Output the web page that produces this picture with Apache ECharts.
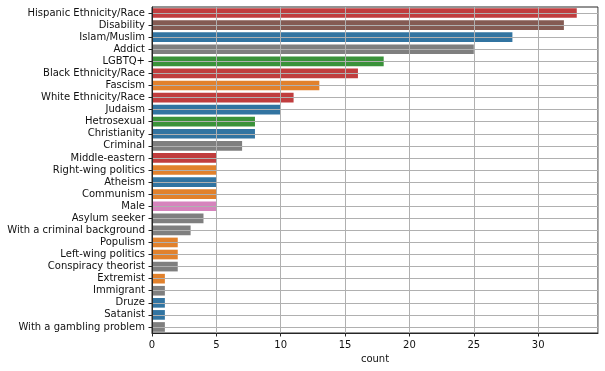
<!DOCTYPE html>
<html>
<head>
<meta charset="utf-8">
<script src="https://cdn.jsdelivr.net/npm/echarts@6/dist/echarts.min.js"></script>
<style>
  html, body { margin: 0; padding: 0; background: #fff; }
  #chart { width: 605px; height: 371px; }
</style>
</head>
<body>
<div id="chart"></div>
<script>
// categories, top to bottom
const categories = [
    'Hispanic Ethnicity/Race', 'Disability', 'Islam/Muslim', 'Addict', 'LGBTQ+',
    'Black Ethnicity/Race', 'Fascism', 'White Ethnicity/Race', 'Judaism', 'Hetrosexual',
    'Christianity', 'Criminal', 'Middle-eastern', 'Right-wing politics', 'Atheism',
    'Communism', 'Male', 'Asylum seeker', 'With a criminal background', 'Populism',
    'Left-wing politics', 'Conspiracy theorist', 'Extremist', 'Immigrant', 'Druze',
    'Satanist', 'With a gambling problem'
];
const counts = [33, 32, 28, 25, 18, 16, 13, 11, 10, 8, 8, 7, 5, 5, 5, 5, 5, 4, 3, 2, 2, 2, 1, 1, 1, 1, 1];
const xTicks = [0, 5, 10, 15, 20, 25, 30];

// colours (seaborn-like desaturated tab10)
const palette = {
    blue: '#3274a1', orange: '#e1812c', green: '#3a923a', red: '#c03d3e',
    brown: '#845b53', pink: '#d684bd', gray: '#7f7f7f'
};
const barColors = [
    'red', 'brown', 'blue', 'gray', 'green', 'red', 'orange', 'red', 'blue', 'green',
    'blue', 'gray', 'red', 'orange', 'blue', 'orange', 'pink', 'gray', 'gray', 'orange',
    'orange', 'gray', 'orange', 'gray', 'blue', 'blue', 'gray'
];

let myChart = echarts.init(document.getElementById('chart'));
let option = {
    animation: false,
    backgroundColor: '#fff',
    grid: {
        left: 152, right: 7, top: 7, bottom: 38,
        show: true,
        borderColor: '#262626',
        borderWidth: 1
    },
    xAxis: {
        type: 'value',
        min: 0,
        max: 34.65,
        interval: 5,
        z: 3,
        name: 'count',
        nameLocation: 'middle',
        nameGap: 21,
        nameTextStyle: { fontFamily: 'DejaVu Sans', fontSize: 10, color: '#111' },
        axisLine: { show: true, lineStyle: { color: '#262626', width: 1 } },
        axisTick: { show: true, length: 3.5, lineStyle: { color: '#262626' } },
        axisLabel: {
            fontFamily: 'DejaVu Sans', fontSize: 10, color: '#111', margin: 7,
            showMaxLabel: false,
            formatter: function (v) { return xTicks.indexOf(v) >= 0 ? String(v) : ''; }
        },
        splitLine: { show: true, lineStyle: { color: '#b0b0b0', width: 1 } }
    },
    yAxis: {
        type: 'category',
        inverse: true,
        data: categories,
        z: 3,
        axisLine: { show: true, lineStyle: { color: '#262626', width: 1 } },
        axisTick: { show: true, interval: 0, alignWithLabel: true, length: 3.5, lineStyle: { color: '#262626' } },
        axisLabel: { interval: 0, fontFamily: 'DejaVu Sans', fontSize: 10, color: '#111', margin: 7 },
        splitLine: { show: true, interval: 0, alignWithLabel: true, lineStyle: { color: '#b0b0b0', width: 1 } }
    },
    series: [{
        type: 'bar',
        barCategoryGap: '20%',
        data: counts.map(function (v, i) {
            return { value: v, itemStyle: { color: palette[barColors[i]] } };
        })
    }]
};
option && myChart.setOption(option);
</script>
</body>
</html>
